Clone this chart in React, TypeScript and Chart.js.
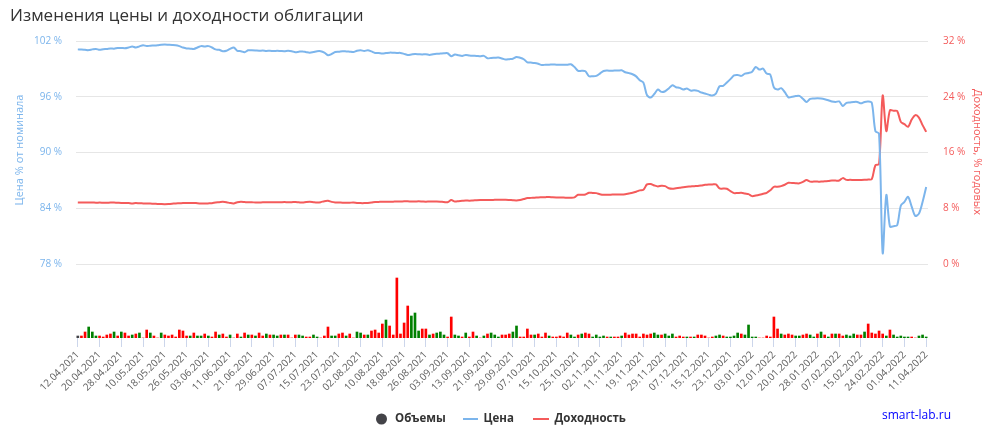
import React, { useEffect, useRef } from "react";
import { Chart, registerables } from "chart.js";

Chart.register(...registerables);

// Trading days (categories)
const dates: string[] = [
  "12.04.2021", "13.04.2021", "14.04.2021", "15.04.2021", "16.04.2021", "19.04.2021", "20.04.2021", "21.04.2021", "22.04.2021", "23.04.2021",
  "26.04.2021", "27.04.2021", "28.04.2021", "29.04.2021", "30.04.2021", "04.05.2021", "05.05.2021", "07.05.2021", "10.05.2021", "11.05.2021",
  "12.05.2021", "13.05.2021", "14.05.2021", "17.05.2021", "18.05.2021", "19.05.2021", "20.05.2021", "21.05.2021", "24.05.2021", "25.05.2021",
  "26.05.2021", "27.05.2021", "28.05.2021", "31.05.2021", "01.06.2021", "02.06.2021", "03.06.2021", "04.06.2021", "07.06.2021", "08.06.2021",
  "09.06.2021", "10.06.2021", "11.06.2021", "14.06.2021", "15.06.2021", "16.06.2021", "17.06.2021", "18.06.2021", "21.06.2021", "22.06.2021",
  "23.06.2021", "24.06.2021", "25.06.2021", "28.06.2021", "29.06.2021", "30.06.2021", "01.07.2021", "02.07.2021", "05.07.2021", "06.07.2021",
  "07.07.2021", "08.07.2021", "09.07.2021", "12.07.2021", "13.07.2021", "14.07.2021", "15.07.2021", "16.07.2021", "19.07.2021", "20.07.2021",
  "21.07.2021", "22.07.2021", "23.07.2021", "26.07.2021", "27.07.2021", "28.07.2021", "29.07.2021", "30.07.2021", "02.08.2021", "03.08.2021",
  "04.08.2021", "05.08.2021", "06.08.2021", "09.08.2021", "10.08.2021", "11.08.2021", "12.08.2021", "13.08.2021", "16.08.2021", "17.08.2021",
  "18.08.2021", "19.08.2021", "20.08.2021", "23.08.2021", "24.08.2021", "25.08.2021", "26.08.2021", "27.08.2021", "30.08.2021", "31.08.2021",
  "01.09.2021", "02.09.2021", "03.09.2021", "06.09.2021", "07.09.2021", "08.09.2021", "09.09.2021", "10.09.2021", "13.09.2021", "14.09.2021",
  "15.09.2021", "16.09.2021", "17.09.2021", "20.09.2021", "21.09.2021", "22.09.2021", "23.09.2021", "24.09.2021", "27.09.2021", "28.09.2021",
  "29.09.2021", "30.09.2021", "01.10.2021", "04.10.2021", "05.10.2021", "06.10.2021", "07.10.2021", "08.10.2021", "11.10.2021", "12.10.2021",
  "13.10.2021", "14.10.2021", "15.10.2021", "18.10.2021", "19.10.2021", "20.10.2021", "21.10.2021", "22.10.2021", "25.10.2021", "26.10.2021",
  "27.10.2021", "28.10.2021", "29.10.2021", "01.11.2021", "02.11.2021", "03.11.2021", "05.11.2021", "08.11.2021", "09.11.2021", "10.11.2021",
  "11.11.2021", "12.11.2021", "15.11.2021", "16.11.2021", "17.11.2021", "18.11.2021", "19.11.2021", "22.11.2021", "23.11.2021", "24.11.2021",
  "25.11.2021", "26.11.2021", "29.11.2021", "30.11.2021", "01.12.2021", "02.12.2021", "03.12.2021", "06.12.2021", "07.12.2021", "08.12.2021",
  "09.12.2021", "10.12.2021", "13.12.2021", "14.12.2021", "15.12.2021", "16.12.2021", "17.12.2021", "20.12.2021", "21.12.2021", "22.12.2021",
  "23.12.2021", "24.12.2021", "27.12.2021", "28.12.2021", "29.12.2021", "30.12.2021", "03.01.2022", "04.01.2022", "05.01.2022", "06.01.2022",
  "10.01.2022", "11.01.2022", "12.01.2022", "13.01.2022", "14.01.2022", "17.01.2022", "18.01.2022", "19.01.2022", "20.01.2022", "21.01.2022",
  "24.01.2022", "25.01.2022", "26.01.2022", "27.01.2022", "28.01.2022", "31.01.2022", "01.02.2022", "02.02.2022", "03.02.2022", "04.02.2022",
  "07.02.2022", "08.02.2022", "09.02.2022", "10.02.2022", "11.02.2022", "14.02.2022", "15.02.2022", "16.02.2022", "17.02.2022", "18.02.2022",
  "21.02.2022", "22.02.2022", "24.02.2022", "25.02.2022", "28.03.2022", "29.03.2022", "30.03.2022", "31.03.2022", "01.04.2022", "04.04.2022",
  "05.04.2022", "06.04.2022", "07.04.2022", "08.04.2022", "11.04.2022",
];

// Price, % of nominal
const price: number[] = [
  101.10, 101.08, 101.05, 101.02, 101.10, 101.15, 101.05, 101.12, 101.15, 101.20,
  101.18, 101.25, 101.25, 101.22, 101.30, 101.40, 101.30, 101.42, 101.55, 101.45,
  101.50, 101.52, 101.55, 101.60, 101.62, 101.60, 101.58, 101.55, 101.45, 101.30,
  101.20, 101.18, 101.15, 101.30, 101.45, 101.40, 101.45, 101.30, 101.10, 101.05,
  100.90, 100.95, 101.15, 101.30, 100.95, 100.90, 100.80, 101.00, 101.00, 100.98,
  100.95, 100.97, 100.93, 100.95, 100.92, 100.95, 100.92, 100.90, 100.95, 100.90,
  100.80, 100.85, 100.88, 100.80, 100.75, 100.82, 100.90, 100.90, 100.75, 100.47,
  100.60, 100.82, 100.85, 100.90, 100.88, 100.85, 100.82, 100.95, 101.00, 100.93,
  101.00, 100.88, 100.72, 100.70, 100.65, 100.70, 100.75, 100.74, 100.72, 100.72,
  100.62, 100.50, 100.55, 100.60, 100.58, 100.55, 100.58, 100.50, 100.57, 100.62,
  100.65, 100.68, 100.68, 100.36, 100.54, 100.48, 100.40, 100.50, 100.45, 100.42,
  100.40, 100.36, 100.40, 100.14, 100.18, 100.20, 100.22, 100.12, 100.00, 100.05,
  100.10, 100.29, 100.20, 100.04, 99.71, 99.68, 99.64, 99.55, 99.42, 99.45,
  99.45, 99.48, 99.46, 99.46, 99.45, 99.46, 99.50, 99.20, 98.78, 98.80,
  98.75, 98.21, 98.22, 98.25, 98.50, 98.78, 98.82, 98.80, 98.82, 98.82,
  98.85, 98.64, 98.55, 98.43, 98.20, 97.78, 97.53, 96.17, 95.92, 96.30,
  96.78, 96.53, 96.60, 96.90, 97.25, 97.03, 96.96, 96.78, 96.90, 96.67,
  96.70, 96.64, 96.46, 96.35, 96.24, 96.14, 96.35, 97.14, 97.17, 97.53,
  97.90, 98.30, 98.35, 98.25, 98.50, 98.57, 98.70, 99.21, 98.93, 99.03,
  98.50, 98.39, 97.00, 96.78, 96.93, 96.50, 95.95, 96.00, 96.08, 96.10,
  95.80, 95.45, 95.78, 95.82, 95.85, 95.82, 95.75, 95.64, 95.50, 95.45,
  95.50, 95.02, 95.35, 95.40, 95.45, 95.45, 95.30, 95.45, 95.50, 95.35,
  92.30, 92.05, 79.20, 85.45, 82.05, 82.10, 82.20, 84.30, 84.70, 85.25,
  84.20, 83.20, 83.45, 84.70, 86.30,
];

// Yield, % per annum
const yieldPct: number[] = [
  8.87, 8.86, 8.85, 8.84, 8.86, 8.82, 8.85, 8.83, 8.82, 8.85,
  8.84, 8.82, 8.80, 8.80, 8.78, 8.72, 8.78, 8.74, 8.73, 8.72,
  8.70, 8.68, 8.65, 8.63, 8.62, 8.64, 8.68, 8.73, 8.75, 8.78,
  8.80, 8.80, 8.80, 8.75, 8.72, 8.72, 8.73, 8.76, 8.85, 8.90,
  8.96, 8.90, 8.78, 8.73, 8.90, 8.96, 8.92, 8.88, 8.88, 8.87,
  8.87, 8.88, 8.90, 8.88, 8.90, 8.88, 8.90, 8.92, 8.90, 8.91,
  8.94, 8.88, 8.84, 8.92, 8.96, 8.90, 8.86, 8.90, 9.05, 9.10,
  8.95, 8.87, 8.85, 8.83, 8.82, 8.83, 8.85, 8.80, 8.77, 8.77,
  8.80, 8.85, 8.92, 8.94, 8.96, 8.95, 8.96, 8.98, 9.00, 9.00,
  9.02, 9.02, 9.00, 9.00, 9.02, 9.00, 8.98, 9.00, 9.00, 9.00,
  8.98, 8.92, 8.90, 9.20, 9.00, 9.05, 9.10, 9.15, 9.12, 9.15,
  9.18, 9.20, 9.20, 9.22, 9.22, 9.24, 9.25, 9.24, 9.25, 9.22,
  9.18, 9.15, 9.22, 9.35, 9.49, 9.52, 9.55, 9.59, 9.60, 9.62,
  9.64, 9.60, 9.58, 9.58, 9.56, 9.55, 9.54, 9.60, 9.96, 9.96,
  10.00, 10.25, 10.22, 10.20, 10.05, 9.96, 9.97, 9.98, 10.00, 10.00,
  10.00, 10.05, 10.15, 10.25, 10.40, 10.59, 10.68, 11.45, 11.50, 11.30,
  11.16, 11.26, 11.20, 10.90, 10.82, 10.90, 10.97, 11.05, 11.11, 11.15,
  11.20, 11.22, 11.30, 11.40, 11.45, 11.45, 11.45, 10.87, 10.85, 10.82,
  10.50, 10.20, 10.22, 10.25, 10.15, 10.06, 9.77, 9.85, 9.96, 10.10,
  10.25, 10.60, 11.11, 11.11, 11.20, 11.40, 11.68, 11.65, 11.62, 11.60,
  11.80, 12.07, 11.85, 11.85, 11.85, 11.85, 11.90, 11.93, 12.00, 12.00,
  12.00, 12.35, 12.10, 12.10, 12.08, 12.07, 12.08, 12.10, 12.15, 12.20,
  14.20, 14.35, 24.18, 19.08, 22.08, 22.00, 21.97, 20.41, 20.08, 19.70,
  20.75, 21.37, 21.03, 19.94, 18.98,
];

// Trading volume (relative units)
const volume: number[] = [
  6, 6, 18, 33, 18, 6, 6, 3, 9, 12,
  18, 6, 18, 15, 6, 9, 12, 15, 0, 24,
  15, 6, 0, 15, 9, 6, 9, 3, 24, 21,
  6, 6, 15, 6, 6, 12, 6, 3, 18, 9,
  12, 3, 9, 0, 12, 3, 15, 9, 9, 6,
  15, 6, 12, 9, 9, 6, 9, 9, 9, 0,
  9, 9, 6, 3, 3, 9, 3, 0, 6, 33,
  6, 6, 12, 15, 6, 12, 0, 18, 15, 9,
  9, 21, 24, 15, 42, 54, 36, 9, 180, 12,
  45, 96, 66, 75, 21, 27, 27, 9, 12, 15,
  18, 9, 3, 63, 9, 6, 3, 15, 3, 18,
  6, 0, 6, 12, 15, 9, 3, 9, 9, 12,
  18, 36, 3, 3, 27, 9, 9, 12, 3, 15,
  6, 3, 3, 6, 3, 15, 9, 3, 9, 12,
  15, 12, 3, 9, 3, 6, 3, 3, 3, 3,
  6, 15, 9, 12, 12, 3, 12, 9, 12, 15,
  9, 9, 12, 6, 12, 3, 6, 3, 3, 3,
  3, 9, 9, 6, 0, 3, 6, 9, 6, 3,
  3, 6, 15, 12, 9, 39, 3, 3, 0, 0,
  6, 3, 63, 27, 12, 9, 12, 9, 6, 6,
  9, 12, 9, 3, 12, 18, 9, 3, 12, 12,
  12, 6, 9, 6, 12, 9, 9, 18, 42, 15,
  12, 21, 12, 6, 24, 9, 3, 6, 3, 3,
  3, 0, 6, 9, 3,
];

// Day direction for the volume bar: u = up, d = down, n = no previous day
const volumeDir: string[] = [
  "n", "d", "d", "u", "u", "u", "d", "d", "d", "d",
  "u", "d", "u", "d", "d", "u", "d", "u", "d", "d",
  "u", "d", "d", "u", "d", "d", "d", "d", "d", "d",
  "d", "u", "d", "u", "u", "d", "u", "d", "d", "u",
  "d", "d", "u", "d", "d", "u", "d", "u", "d", "u",
  "d", "d", "u", "d", "u", "u", "d", "u", "d", "d",
  "d", "u", "u", "d", "d", "u", "u", "d", "d", "d",
  "u", "u", "d", "d", "u", "d", "d", "u", "u", "d",
  "u", "d", "d", "d", "d", "u", "d", "d", "d", "d",
  "d", "d", "u", "u", "u", "d", "d", "u", "d", "u",
  "u", "u", "d", "d", "u", "u", "d", "u", "d", "d",
  "u", "d", "u", "d", "u", "u", "u", "d", "d", "d",
  "u", "u", "d", "d", "d", "d", "u", "d", "d", "d",
  "u", "d", "d", "d", "d", "d", "u", "u", "d", "u",
  "d", "d", "u", "u", "u", "u", "d", "u", "d", "d",
  "u", "d", "d", "d", "d", "d", "d", "d", "d", "u",
  "u", "d", "u", "u", "u", "d", "d", "d", "u", "d",
  "u", "d", "d", "d", "d", "d", "u", "u", "d", "u",
  "u", "u", "u", "d", "u", "u", "u", "u", "d", "d",
  "d", "d", "d", "d", "u", "d", "d", "d", "u", "u",
  "d", "d", "u", "u", "d", "u", "d", "u", "d", "u",
  "d", "d", "u", "u", "u", "d", "d", "u", "d", "d",
  "d", "d", "d", "u", "d", "u", "u", "u", "u", "u",
  "d", "d", "u", "u", "u",
];

const priceTicks: number[] = [78, 84, 90, 96, 102];
const yieldTicks: number[] = [0, 8, 16, 24, 32];
const LABEL_STEP = 6;

const FONT = '"Open Sans", "Noto Sans", sans-serif';
const C = {
  price: "#7cb5ec",
  yield: "#f45b5b",
  volume: "#434348",
  up: "#008000",
  down: "#ff0000",
  grid: "#e6e6e6",
  tick: "#ccd6eb",
  text: "#333333",
  label: "#606060",
  credits: "#0000ff",
};

const overlayPlugin = {
  id: "overlay",
  afterDraw(chart: any) {
    const ctx = chart.ctx as CanvasRenderingContext2D;
    ctx.save();
    // Title
    ctx.fillStyle = C.text;
    ctx.font = `17px ${FONT}`;
    ctx.textAlign = "left";
    ctx.textBaseline = "alphabetic";
    ctx.fillText("Изменения цены и доходности облигации", 10, 21);

    // Left axis title
    ctx.save();
    ctx.translate(20, 150);
    ctx.rotate(-Math.PI / 2);
    ctx.font = `11px ${FONT}`;
    ctx.fillStyle = C.price;
    ctx.textAlign = "center";
    ctx.textBaseline = "middle";
    ctx.fillText("Цена % от номинала", 0, 0);
    ctx.restore();

    // Right axis title
    ctx.save();
    ctx.translate(977, 152);
    ctx.rotate(Math.PI / 2);
    ctx.font = `11px ${FONT}`;
    ctx.fillStyle = C.yield;
    ctx.textAlign = "center";
    ctx.textBaseline = "middle";
    ctx.fillText("Доходность, % годовых", 0, 0);
    ctx.restore();

    // Legend
    const ly = 419;
    ctx.font = `bold 11.5px ${FONT}`;
    ctx.textAlign = "left";
    ctx.textBaseline = "middle";
    ctx.fillStyle = C.volume;
    ctx.beginPath();
    ctx.arc(381.5, ly, 5.5, 0, Math.PI * 2);
    ctx.fill();
    ctx.fillStyle = C.text;
    ctx.fillText("Объемы", 395, ly);

    ctx.strokeStyle = C.price;
    ctx.lineWidth = 2;
    ctx.beginPath();
    ctx.moveTo(463, ly);
    ctx.lineTo(478, ly);
    ctx.stroke();
    ctx.fillText("Цена", 483.5, ly);

    ctx.strokeStyle = C.yield;
    ctx.beginPath();
    ctx.moveTo(533, ly);
    ctx.lineTo(549, ly);
    ctx.stroke();
    ctx.fillText("Доходность", 554.5, ly);

    // Credits
    ctx.font = `12px ${FONT}`;
    ctx.fillStyle = C.credits;
    ctx.fillText("smart-lab.ru", 882, 416);
    ctx.restore();
  },
};

export default function App() {
  const canvasRef = useRef<HTMLCanvasElement | null>(null);

  useEffect(() => {
    if (!canvasRef.current) return;
    const chart = new Chart(canvasRef.current, {
      type: "bar",
      data: {
        labels: dates,
        datasets: [
          {
            type: "line",
            label: "Цена",
            data: price,
            yAxisID: "yPrice",
            borderColor: C.price,
            backgroundColor: C.price,
            borderWidth: 2,
            pointRadius: 0,
            tension: 0.3,
            order: 1,
          } as any,
          {
            type: "line",
            label: "Доходность",
            data: yieldPct,
            yAxisID: "yYield",
            borderColor: C.yield,
            backgroundColor: C.yield,
            borderWidth: 2,
            pointRadius: 0,
            tension: 0.3,
            order: 2,
          } as any,
          {
            type: "bar",
            label: "Объемы",
            data: volume,
            yAxisID: "yVol",
            backgroundColor: volumeDir.map((d) => (d === "u" ? C.up : d === "d" ? C.down : C.volume)),
            borderWidth: 0,
            barThickness: 2,
            order: 3,
          } as any,
        ],
      },
      options: {
        responsive: false,
        animation: false,
        devicePixelRatio: 1,
        events: [],
        layout: { padding: { top: 41, left: 0, right: 0, bottom: 0 } },
        plugins: {
          legend: { display: false },
          title: { display: false },
          tooltip: { enabled: false },
        },
        scales: {
          x: {
            type: "category",
            offset: true,
            border: { display: false },
            grid: {
              display: true,
              drawOnChartArea: false,
              drawTicks: true,
              tickLength: 9,
              color: C.tick,
              offset: false,
            },
            ticks: {
              autoSkip: false,
              minRotation: 45,
              maxRotation: 45,
              padding: 2,
              color: C.label,
              font: { family: FONT, size: 10 },
            },
            afterBuildTicks: (s: any) => {
              s.ticks = s.ticks.filter((t: any) => t.value % LABEL_STEP === 0);
            },
            afterFit: (s: any) => {
              s.height = 101;
            },
          } as any,
          yPrice: {
            type: "linear",
            position: "left",
            min: 70.08,
            max: 102,
            border: { display: false },
            grid: { color: C.grid, drawTicks: false },
            ticks: {
              padding: 14,
              color: C.price,
              font: { family: FONT, size: 10 },
              callback: (v: any) => `${v} %`,
            },
            afterBuildTicks: (s: any) => {
              s.ticks = priceTicks.map((v) => ({ value: v }));
            },
            afterFit: (s: any) => {
              s.width = 76;
            },
          } as any,
          yYield: {
            type: "linear",
            position: "right",
            min: -10.56,
            max: 32,
            border: { display: false },
            grid: { drawOnChartArea: false, drawTicks: false },
            ticks: {
              padding: 15,
              color: C.yield,
              font: { family: FONT, size: 10 },
              callback: (v: any) => `${v} %`,
            },
            afterBuildTicks: (s: any) => {
              s.ticks = yieldTicks.map((v) => ({ value: v }));
            },
            afterFit: (s: any) => {
              s.width = 69;
            },
          } as any,
          yVol: {
            type: "linear",
            display: false,
            min: 0,
            max: 891,
          },
        },
      },
      plugins: [overlayPlugin],
    });
    return () => chart.destroy();
  }, []);

  return (
    <div style={{ position: "absolute", left: 0, top: 0, width: 997, height: 439, background: "#ffffff" }}>
      <canvas ref={canvasRef} width={997} height={439} style={{ width: 997, height: 439, display: "block" }} />
    </div>
  );
}
